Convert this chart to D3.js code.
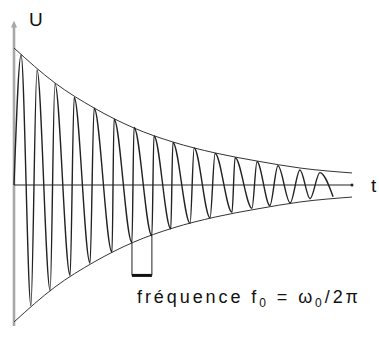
<!DOCTYPE html>
<html>
<head>
<meta charset="utf-8">
<script src="https://cdn.jsdelivr.net/npm/d3@7"></script>
<style>
  html, body { margin: 0; padding: 0; background: #fff; }
  text { font-family: "Liberation Sans", Arial, Helvetica, sans-serif; fill: #111; }
</style>
</head>
<body>
<div id="chart"></div>
<script>
// damped oscillation : successive extrema (t, U)
var waveT = [0, 0.21, 0.50, 0.68, 1.07, 1.21, 1.66, 1.78, 2.25, 2.37, 2.90, 2.96, 3.49, 3.55,
             4.08, 4.14, 4.64, 4.70, 5.21, 5.33, 5.80, 5.95, 6.45, 6.54, 7.04, 7.19, 7.57,
             7.81, 8.17, 8.46, 8.76, 9.05, 9.44];
var waveU = [0, 0.95, -0.88, 0.84, -0.77, 0.74, -0.66, 0.64, -0.57, 0.56, -0.49, 0.48, -0.42, 0.42,
             -0.37, 0.36, -0.32, 0.31, -0.28, 0.27, -0.24, 0.23, -0.20, 0.20, -0.17, 0.17, -0.15,
             0.14, -0.13, 0.11, -0.10, 0.09, -0.085];

// envelope (amplitude decay)
var envT = [0, 1.21, 2.37, 3.55, 4.70, 5.95, 7.19, 8.46, 10];
var envU = [1.0, 0.745, 0.562, 0.416, 0.314, 0.234, 0.175, 0.124, 0.088];

// one period marked under the curve (indices into waveT)
var periodStart = 12, periodEnd = 14;

var axisLabels = { y: "U", x: "t" };

var width = 379, height = 349;

var x = d3.scaleLinear().domain([0, 10]).range([14, 352]);
var y = d3.scaleLinear().domain([-1, 1]).range([322, 48]);

var svg = d3.select('#chart').append('svg')
  .attr('width', width)
  .attr('height', height);

// vertical axis (grey, thick)
svg.append('line')
  .attr('x1', x(0)).attr('x2', x(0))
  .attr('y1', y(-1.03)).attr('y2', y(1.17))
  .attr('stroke', '#a8a8a8')
  .attr('stroke-width', 2.6);
svg.append('path')
  .attr('d', 'M' + (x(0) - 3) + ',' + (y(1.15)) + 'L' + x(0) + ',' + (y(1.20)) + 'L' + (x(0) + 3) + ',' + y(1.15) + 'Z')
  .attr('fill', '#a8a8a8');

// horizontal axis
svg.append('line')
  .attr('x1', x(0)).attr('x2', x(10))
  .attr('y1', y(0)).attr('y2', y(0))
  .attr('stroke', '#222')
  .attr('stroke-width', 1);
svg.append('circle')
  .attr('cx', x(10)).attr('cy', y(0))
  .attr('r', 1.5)
  .attr('fill', '#222');

// envelope
var envLine = d3.line()
  .x(function(d) { return x(d[0]); })
  .y(function(d) { return y(d[1]); })
  .curve(d3.curveMonotoneX);

var envUp = envT.map(function(t, i) { return [t, envU[i]]; });
var envDown = envT.map(function(t, i) { return [t, -envU[i]]; });

[envUp, envDown].forEach(function(pts) {
  svg.append('path')
    .attr('d', envLine(pts))
    .attr('fill', 'none')
    .attr('stroke', '#333')
    .attr('stroke-width', 1);
});

// oscillation
var wave = waveT.map(function(t, i) { return [t, waveU[i]]; });
svg.append('path')
  .attr('d', envLine(wave))
  .attr('fill', 'none')
  .attr('stroke', '#222')
  .attr('stroke-width', 1.4);

// period bracket
var bracketBottom = y(-0.66);
var p0 = wave[periodStart], p1 = wave[periodEnd];
svg.append('path')
  .attr('d', 'M' + x(p0[0]) + ',' + y(p0[1]) + 'V' + bracketBottom +
             'M' + x(p1[0]) + ',' + y(p1[1]) + 'V' + bracketBottom)
  .attr('fill', 'none')
  .attr('stroke', '#222')
  .attr('stroke-width', 1);
svg.append('line')
  .attr('x1', x(p0[0])).attr('x2', x(p1[0]))
  .attr('y1', bracketBottom).attr('y2', bracketBottom)
  .attr('stroke', '#111')
  .attr('stroke-width', 3);

// labels
svg.append('text')
  .attr('x', 29).attr('y', 26)
  .style('font-size', '19px')
  .text(axisLabels.y);

svg.append('text')
  .attr('x', 371).attr('y', 192)
  .style('font-size', '19px')
  .text(axisLabels.x);

var caption = svg.append('text')
  .attr('x', 137).attr('y', 303)
  .attr('textLength', 221)
  .attr('lengthAdjust', 'spacing')
  .style('font-size', '18px');
caption.append('tspan').text('fréquence f');
caption.append('tspan').attr('dy', 4).style('font-size', '12px').text('0');
caption.append('tspan').attr('dy', -4).text(' = ω');
caption.append('tspan').attr('dy', 4).style('font-size', '12px').text('0');
caption.append('tspan').attr('dy', -4).text('/2π');
</script>
</body>
</html>
